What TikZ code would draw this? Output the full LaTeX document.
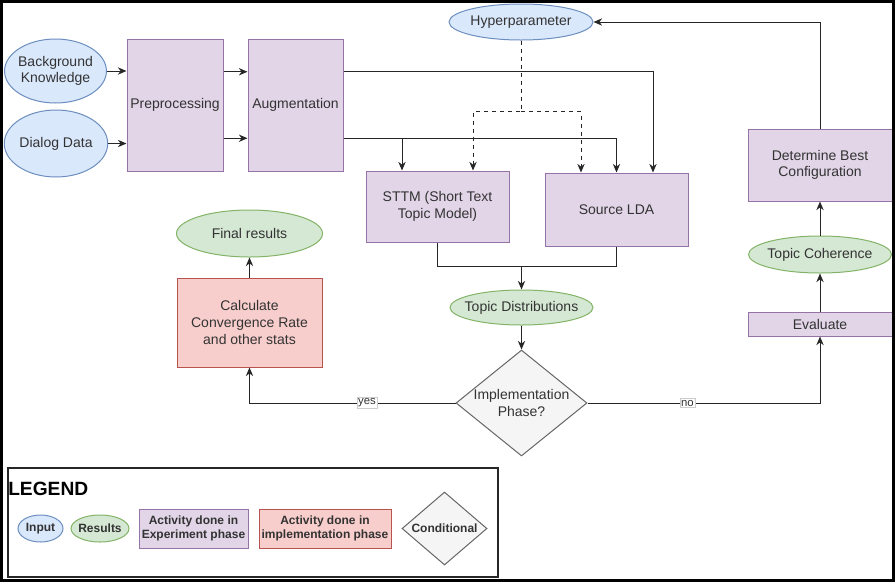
\documentclass[tikz,border=0pt]{standalone}
\usepackage{fontspec}
\setmainfont{Liberation Sans}
\usepackage{tikz}
\usetikzlibrary{
    shapes.geometric,
    arrows.meta,
    positioning,
    calc
}
\definecolor{inputfill}{HTML}{DAE8FC}
\definecolor{inputline}{HTML}{6C8EBF}
\definecolor{resultfill}{HTML}{D5E8D4}
\definecolor{resultline}{HTML}{82B366}
\definecolor{expfill}{HTML}{E1D5E7}
\definecolor{expline}{HTML}{9673A6}
\definecolor{implfill}{HTML}{F8CECC}
\definecolor{implline}{HTML}{B85450}
\definecolor{condfill}{HTML}{F5F5F5}
\definecolor{condline}{HTML}{666666}
\definecolor{textgray}{HTML}{333333}
\newcommand{\diagfont}{\fontsize{10.5}{12.5}\selectfont}
\newcommand{\keyfont}{\bfseries\fontsize{9}{10.3}\selectfont}
\tikzset{
    inputnode/.style={
        ellipse,
        draw=inputline,
        fill=inputfill,
        line width=0.75pt,
        inner sep=0pt,
        align=center,
        text=textgray,
        font=\diagfont
    },
    resultnode/.style={
        ellipse,
        draw=resultline,
        fill=resultfill,
        line width=0.75pt,
        inner sep=0pt,
        align=center,
        text=textgray,
        font=\diagfont
    },
    expbox/.style={
        rectangle,
        draw=expline,
        fill=expfill,
        line width=0.75pt,
        inner sep=1pt,
        align=center,
        text=textgray,
        font=\diagfont
    },
    implbox/.style={
        rectangle,
        draw=implline,
        fill=implfill,
        line width=0.75pt,
        inner sep=1pt,
        align=center,
        text=textgray,
        font=\diagfont
    },
    condnode/.style={
        diamond,
        draw=condline,
        fill=condfill,
        line width=0.75pt,
        inner sep=0pt
    },
    condtext/.style={
        inner sep=0pt,
        align=center,
        text=textgray,
        font=\diagfont
    },
    flow/.style={
        -{Stealth[length=6.5pt,width=5.5pt]},
        line width=0.75pt,
        draw=black!85
    },
    edgelabel/.style={
        fill=white,
        draw=black!20,
        line width=0.4pt,
        inner sep=1pt,
        text=textgray,
        font=\fontsize{8.5}{10}\selectfont
    }
}

\begin{document}
\begin{tikzpicture}[x=0.75pt, y=-0.75pt]
    \useasboundingbox (0,0) rectangle (896,583);

    % Inputs and preparation
    \node[inputnode, inner xsep=-1pt, minimum width=72.75pt, minimum height=48pt] (background) at (55.5,71) {Background\\Knowledge};
    \node[inputnode, minimum width=76.5pt, minimum height=50.25pt] (dialog) at (56,143.5) {Dialog Data};
    \node[expbox, minimum width=72pt, minimum height=99pt] (prep) at (175,105) {Preprocessing};
    \node[expbox, minimum width=71.25pt, minimum height=99pt, right=18pt of prep] (aug) {Augmentation};

    % Topic models
    \node[inputnode, inner xsep=-0.5pt, minimum width=108pt, minimum height=27pt] (hyper) at (521,22) {Hyperparameter};
    \node[expbox, minimum width=107.25pt, minimum height=53.25pt] (sttm) at (437.5,206.5) {STTM (Short Text\\Topic Model)};
    \node[expbox, minimum width=107.25pt, minimum height=54.75pt] (lda) at (616.5,209.5) {Source LDA};
    \node[resultnode, inner xsep=-5pt, minimum width=107.25pt, minimum height=26.25pt] (topics) at (521.5,307.5) {Topic Distributions};
    \node[condnode, minimum width=98.25pt, minimum height=79.5pt] (phase) at (521.5,403) {};
    \node[condtext] (phasetext) at (phase) {Implementation\\Phase?};

    % Implementation branch
    \node[implbox, minimum width=108.75pt, minimum height=66.75pt] (calc) at (249.5,322.5) {Calculate\\Convergence Rate\\and other stats};
    \node[resultnode, minimum width=109.5pt, minimum height=35.25pt] (final) at (249.5,233.5) {Final results};

    % Experiment branch
    \node[expbox, minimum width=108pt, minimum height=18pt] (evaluate) at (820,324) {Evaluate};
    \node[resultnode, inner xsep=-2pt, minimum width=107.25pt, minimum height=27.75pt] (coherence) at (820,254.5) {Topic Coherence};
    \node[expbox, minimum width=108pt, minimum height=54pt] (best) at (820,165) {Determine Best\\Configuration};

    % Ports
    \coordinate (prepA) at ($(prep.north east)!0.25!(prep.south east)$);
    \coordinate (prepB) at ($(prep.north east)!0.75!(prep.south east)$);
    \coordinate (augA) at ($(aug.north east)!0.25!(aug.south east)$);
    \coordinate (augB) at ($(aug.north east)!0.75!(aug.south east)$);
    \coordinate (split) at ($(hyper.south)+(0,71)$);
    \coordinate (merge) at (521.5,266);

    % Connectors
    \draw[flow] (background.east) -- (background.east -| prep.west);
    \draw[flow] (dialog.east) -- (dialog.east -| prep.west);
    \draw[flow] (prepA) -- (prepA -| aug.west);
    \draw[flow] (prepB) -- (prepB -| aug.west);
    \draw[flow] (augA) -| ($(lda.north)+(36.5,0)$);
    \draw[flow] (augB) -| ($(sttm.north)+(-35.5,0)$);
    \draw[flow] (augB) -| (lda.north);
    \draw[flow, dashed] (hyper.south) -- (split) -| ($(sttm.north)+(35.5,0)$);
    \draw[flow, dashed] (split) -| ($(lda.north)+(-35.5,0)$);
    \draw[line width=0.75pt, draw=black!85] (sttm.south) |- (merge);
    \draw[line width=0.75pt, draw=black!85] (lda.south) |- (merge);
    \draw[flow] (merge) -- (topics.north);
    \draw[flow] (topics.south) -- (phase.north);
    \draw[flow] (phase.west) -| node[edgelabel, pos=0.215] {yes} (calc.south);
    \draw[flow] (phase.east) -| node[edgelabel, pos=0.215] {no} (evaluate.south);
    \draw[flow] (calc.north) -- (final.south);
    \draw[flow] (evaluate.north) -- (coherence.south);
    \draw[flow] (coherence.north) -- (best.south);
    \draw[flow] (best.north) |- (hyper.east);

    % Legend
    \node[draw=black!85, line width=0.9pt, minimum width=367.5pt, minimum height=81.75pt, inner sep=0pt] (legendbox) at (253,522.5) {};
    \node[anchor=west, inner sep=0pt, font=\bfseries\fontsize{14.4}{16}\selectfont] (legendtitle) at (8,489) {LEGEND};
    \node[inputnode, font=\keyfont, minimum width=33.75pt, minimum height=20.25pt] (keyinput) at (40.5,528.5) {Input};
    \node[resultnode, font=\keyfont, inner xsep=-2pt, minimum width=43.5pt, minimum height=20.25pt, right=5.25pt of keyinput] (keyresult) {Results};
    \node[expbox, font=\keyfont, minimum width=81.75pt, minimum height=29.25pt, right=6.75pt of keyresult] (keyexp) {Activity done in\\Experiment phase};
    \node[implbox, font=\keyfont, minimum width=99pt, minimum height=29.25pt, right=7.5pt of keyexp] (keyimpl) {Activity done in\\implementation phase};
    \node[condnode, minimum width=63.75pt, minimum height=54.75pt, right=7.5pt of keyimpl] (keycond) {};
    \node[condtext, font=\keyfont] (keycondtext) at (keycond) {Conditional};

    % Outer frame
    \draw[line width=2.25pt] (1.5,1.5) rectangle (893.5,580.5);
\end{tikzpicture}
\end{document}
